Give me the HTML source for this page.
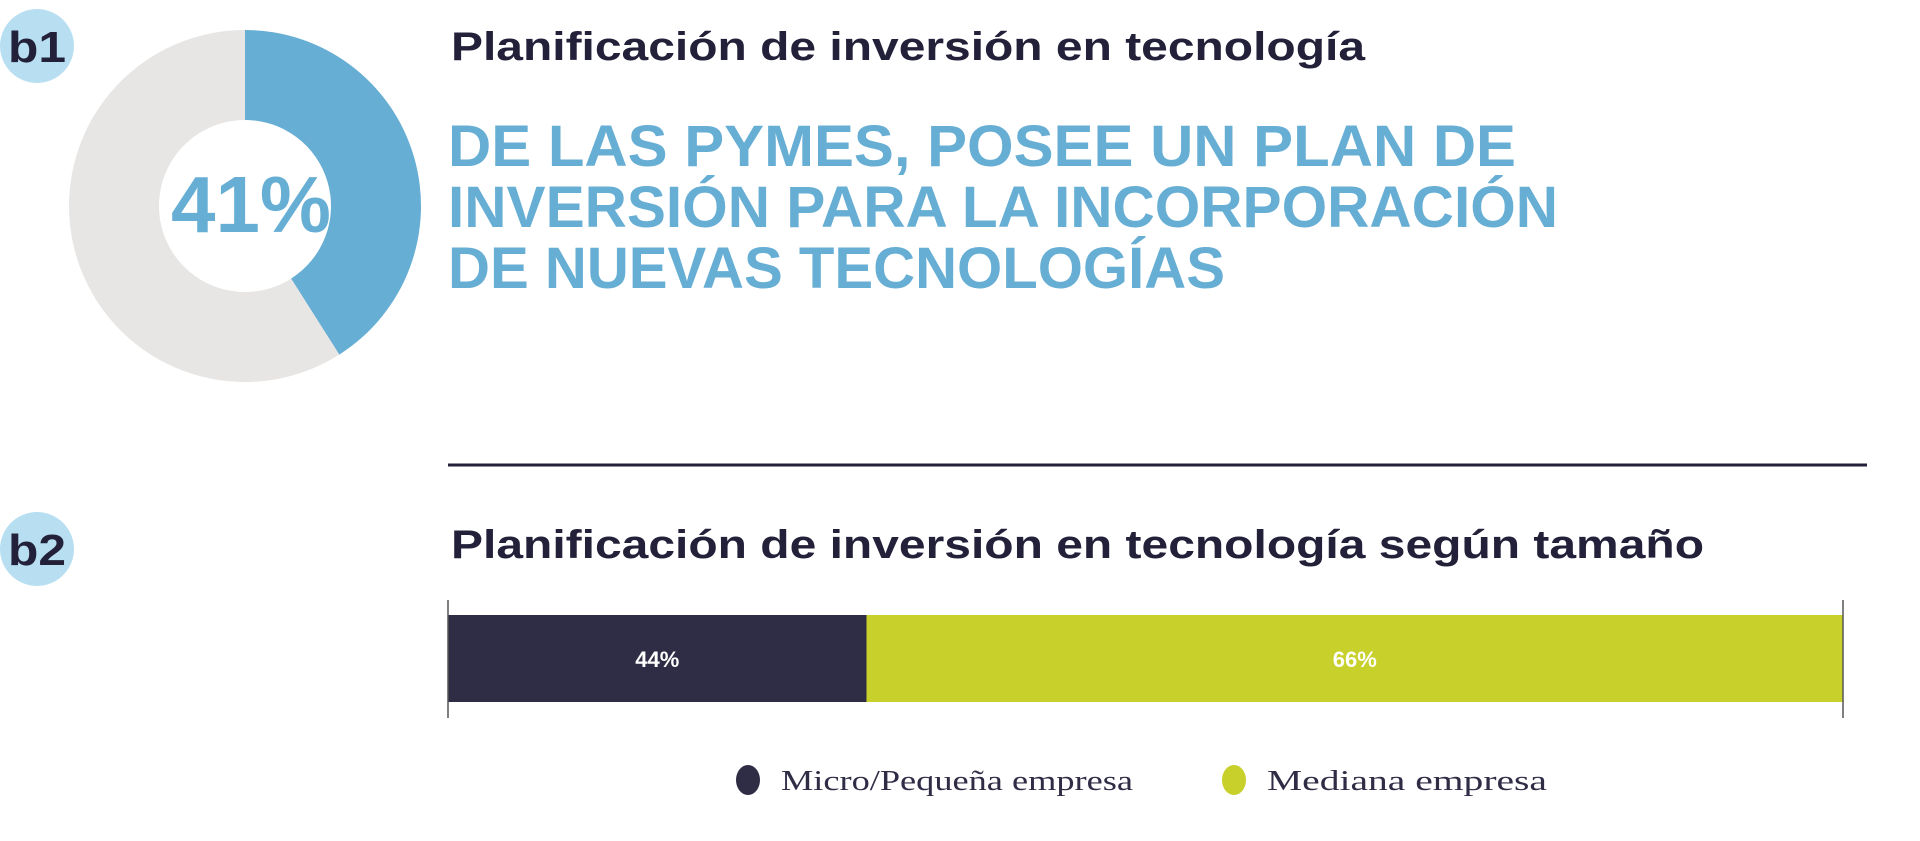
<!DOCTYPE html>
<html><head><meta charset="utf-8"><style>
html,body{margin:0;padding:0;background:#fff;width:1920px;height:841px;overflow:hidden}
svg text{font-family:"Liberation Sans",sans-serif}
</style></head><body>
<svg id="root" width="1920" height="841" viewBox="0 0 1920 841" xmlns="http://www.w3.org/2000/svg">
  <g>
    <circle cx="37" cy="46" r="37" fill="#b8dff1"/>
    <text x="37" y="62" text-anchor="middle" font-size="44" font-weight="bold" fill="#23213a" textLength="58" lengthAdjust="spacingAndGlyphs">b1</text>
  </g>
  <g id="donut"></g>
  <text x="451" y="60" font-size="40" font-weight="bold" fill="#23213a" textLength="914" lengthAdjust="spacingAndGlyphs">Planificación de inversión en tecnología</text>
  <g fill="#67aed4" font-weight="bold" font-size="58">
    <text x="448" y="166" textLength="1068" lengthAdjust="spacingAndGlyphs">DE LAS PYMES, POSEE UN PLAN DE</text>
    <text x="448" y="227" textLength="1110" lengthAdjust="spacingAndGlyphs">INVERSIÓN PARA LA INCORPORACIÓN</text>
    <text x="448" y="288" textLength="777" lengthAdjust="spacingAndGlyphs">DE NUEVAS TECNOLOGÍAS</text>
  </g>
  <line x1="448" y1="465" x2="1867" y2="465" stroke="#23213a" stroke-width="3"/>
  <g>
    <circle cx="37" cy="549" r="37" fill="#b8dff1"/>
    <text x="37" y="565" text-anchor="middle" font-size="44" font-weight="bold" fill="#23213a" textLength="58" lengthAdjust="spacingAndGlyphs">b2</text>
  </g>
  <text x="451" y="558" font-size="40" font-weight="bold" fill="#23213a" textLength="1253" lengthAdjust="spacingAndGlyphs">Planificación de inversión en tecnología según tamaño</text>
  <g id="bar"></g>
  <g id="legend"></g>
</svg>
<script>
const NS="http://www.w3.org/2000/svg";
const donutValues=[41,59];
const donutLabel="41%";
const barCategories=["Micro/Pequeña empresa","Mediana empresa"];
const barShares=[30,70];
const barLabels=["44%","66%"];
const barColors=["#2f2d45","#c8d02b"];
function mk(tag,attrs,parent){const e=document.createElementNS(NS,tag);for(const k in attrs)e.setAttribute(k,attrs[k]);parent.appendChild(e);return e;}
// donut
const dg=document.getElementById('donut');
const cx=245,cy=206,R=176,r=86;
const total=donutValues.reduce((a,b)=>a+b,0);
const dColors=["#67aed4","#e8e6e4"];
let a0=0;
function pt(rad,ang){return [cx+rad*Math.sin(ang),cy-rad*Math.cos(ang)];}
donutValues.forEach((v,i)=>{
  const a1=a0+v/total*2*Math.PI;
  const large=(a1-a0)>Math.PI?1:0;
  const [x0,y0]=pt(R,a0),[x1,y1]=pt(R,a1),[x2,y2]=pt(r,a1),[x3,y3]=pt(r,a0);
  const p=mk('path',{d:`M${x0},${y0}A${R},${R} 0 ${large} 1 ${x1},${y1}L${x2},${y2}A${r},${r} 0 ${large} 0 ${x3},${y3}Z`,fill:dColors[i]},dg);
  
  
  a0=a1;
});
const dt=mk('text',{x:251,y:232,'text-anchor':'middle','font-size':80,'font-weight':'bold',fill:'#67aed4',textLength:160,lengthAdjust:'spacingAndGlyphs'},dg);
dt.textContent=donutLabel;


// bar
const bg=document.getElementById('bar');
const x0b=448,x1b=1843,yT=615,yB=702;
const sx=v=>x0b+v/100*(x1b-x0b);
let acc=0;
barShares.forEach((v,i)=>{
  const rc=mk('rect',{x:sx(acc),y:yT,width:sx(acc+v)-sx(acc),height:yB-yT,fill:barColors[i]},bg);
  
  
  const t=mk('text',{x:(sx(acc)+sx(acc+v))/2,y:667,'text-anchor':'middle','font-size':22,'font-weight':'bold',fill:'#fff'},bg);
  t.textContent=barLabels[i];
  
  
  acc+=v;
});
[x0b,x1b].forEach((x,i)=>{
  const l=mk('line',{x1:x,y1:600,x2:x,y2:718,stroke:'#555',"stroke-width":1.5},bg);
  
  
});
// legend
const lg=document.getElementById('legend');
const legX=[748,1234],legTL=[352,280];
barCategories.forEach((c,i)=>{
  const g=mk('g',{},lg);
  
  
  mk('ellipse',{cx:legX[i],cy:780,rx:12,ry:15,fill:barColors[i]},g);
  const t=mk('text',{x:legX[i]+33,y:790,'font-size':28,fill:'#2f2d45','font-family':'Liberation Serif, serif',textLength:legTL[i],lengthAdjust:'spacingAndGlyphs'},g);
  t.style.fontFamily='"Liberation Serif",serif';
  t.textContent=c;
});
</script>
</body></html>
